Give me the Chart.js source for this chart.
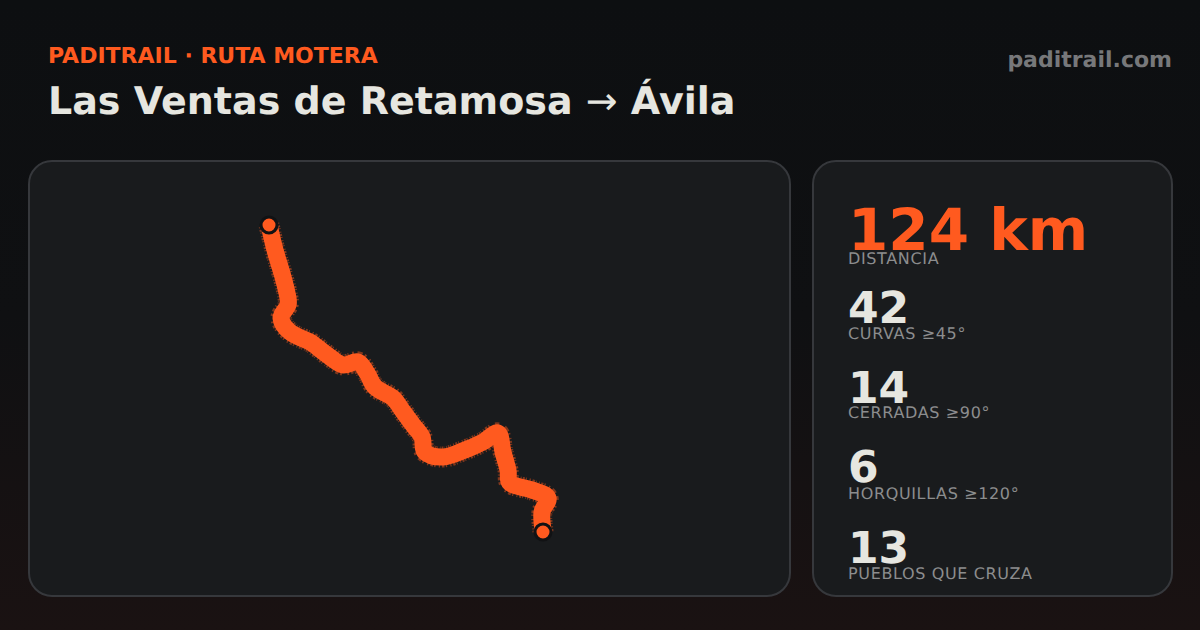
<!DOCTYPE html>
<html lang="es">
<head>
<meta charset="utf-8">
<title>Las Ventas de Retamosa → Ávila</title>
<script src="https://cdn.jsdelivr.net/npm/chart.js@4/dist/chart.umd.min.js"></script>
<style>
  * { margin: 0; padding: 0; box-sizing: border-box; }
  html, body { width: 1200px; height: 630px; overflow: hidden; }
  body {
    position: relative;
    font-family: "DejaVu Sans", sans-serif;
    text-rendering: geometricPrecision;
    background: linear-gradient(180deg, #0d0f11 0%, #0f1012 50%, #1a1212 100%);
  }
  .abs { position: absolute; white-space: nowrap; line-height: 1; }
  #eyebrow { left: 48px; top: 46px; font-size: 22px; font-weight: 700; color: #ff5a1f; }
  #title { left: 48px; top: 82px; font-size: 38px; font-weight: 700; color: #e6e6e0; }
  #title span { font-weight: 400; }
  #brand { right: 28px; top: 50px; font-size: 22px; font-weight: 700; color: #77787a; }
  .panel { position: absolute; top: 160px; height: 437px; background: #191b1d; border: 2px solid #36383c; border-radius: 24px; }
  #map-panel { left: 28px; width: 763px; }
  #stats-panel { left: 812px; width: 361px; }
  #route-wrap { position: absolute; left: 29px; top: 161px; width: 762px; height: 436px; }
  .num { left: 848px; font-size: 44px; font-weight: 700; color: #e6e6e0; }
  .num.big { font-size: 58px; color: #ff5a1f; }
  .lbl { left: 848px; font-size: 16px; letter-spacing: 0.64px; color: #8c8d8e; }
</style>
</head>
<body>
<div class="abs" id="eyebrow">PADITRAIL · RUTA MOTERA</div>
<div class="abs" id="title">Las Ventas de Retamosa <span>→</span> Ávila</div>
<div class="abs" id="brand">paditrail.com</div>
<div class="panel" id="map-panel"></div>
<div class="panel" id="stats-panel"></div>
<div id="route-wrap"><canvas id="route-chart" width="762" height="436"></canvas></div>
<div id="stats"></div>

<script>
  // trazado, en unidades del panel
  const routeX = [240, 246, 254, 259, 259, 252, 261, 281, 288, 301, 314, 329, 338, 346, 364, 373, 384, 393, 396, 414, 436, 454, 469, 474, 479, 481, 503, 519, 513, 514];
  const routeY = [64, 89, 116, 137, 144, 157, 171, 181, 186, 196, 204, 201, 212, 226, 237, 249, 264, 276, 291, 296, 289, 281, 272, 291, 309, 322, 329, 337, 351, 371];
  const endX = [240, 514];
  const endY = [64, 371];

  const statValues = ['124 km', '42', '14', '6', '13'];
  const statLabels = ['DISTANCIA', 'CURVAS ≥45°', 'CERRADAS ≥90°', 'HORQUILLAS ≥120°', 'PUEBLOS QUE CRUZA'];
  const statNumTops = [201, 287, 367, 446, 527];
  const statLblTops = [251, 326, 405, 486, 566];

  const stats = document.getElementById('stats');
  stats.innerHTML = statValues.map((value, index) => `
    <div class="abs num${index === 0 ? ' big' : ''}" style="top:${statNumTops[index]}px">${value}</div>
    <div class="abs lbl" style="top:${statLblTops[index]}px">${statLabels[index]}</div>
  `).join('');

  const routePoints = routeX.map((x, index) => ({ x, y: routeY[index] }));
  const endPoints = endX.map((x, index) => ({ x, y: endY[index] }));

  new Chart(document.getElementById('route-chart').getContext('2d'), {
    type: 'scatter',
    data: {
      datasets: [
        {
          // puntos de salida y llegada
          data: endPoints,
          order: 0,
          pointRadius: 8,
          backgroundColor: '#ff5a1f',
          borderColor: '#111214',
          borderWidth: 3,
        },
        {
          data: routePoints,
          order: 1,
          showLine: true,
          pointRadius: 0,
          borderColor: '#ff5a1f',
          borderWidth: 17,
          tension: 0.35,
          borderCapStyle: 'round',
          borderJoinStyle: 'round',
        },
        {
          // borde deshilachado del trazo
          data: routePoints,
          order: 2,
          showLine: true,
          pointRadius: 0,
          borderColor: 'rgba(255, 90, 31, 0.45)',
          borderWidth: 21,
          borderDash: [1, 1.5, 2, 1, 1, 2.5],
          tension: 0.35,
          borderJoinStyle: 'round',
        },
      ],
    },
    options: {
      responsive: false,
      animation: false,
      layout: { padding: 0, autoPadding: false },
      plugins: { legend: { display: false }, tooltip: { enabled: false } },
      scales: {
        x: { display: false, min: 0, max: 762 },
        y: { display: false, min: 0, max: 436, reverse: true },
      },
    },
  });
</script>
</body>
</html>
